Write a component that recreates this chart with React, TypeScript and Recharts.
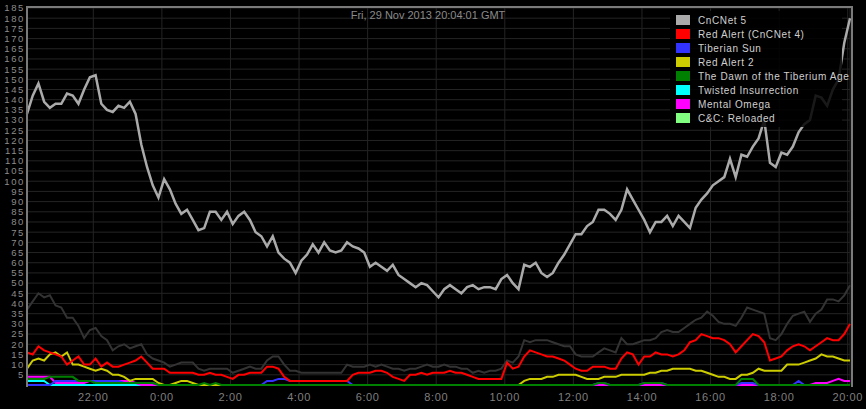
import { LineChart, Line, XAxis, YAxis, CartesianGrid } from "recharts";

// 10-minute samples, starting Thu 20:04 GMT and ending Fri 20:04 GMT
const CNCNET5 = [
  133, 142, 148, 139, 136, 138, 138, 143, 142, 138,
  145, 151, 152, 138, 135, 134, 137, 136, 139, 133,
  118, 107, 98, 92, 101, 96, 89, 84, 86, 81,
  76, 77, 85, 85, 81, 85, 79, 83, 85, 81,
  75, 73, 68, 73, 65, 62, 60, 55, 61, 64,
  69, 65, 70, 66, 65, 66, 70, 68, 67, 65,
  58, 60, 58, 56, 59, 54, 52, 50, 48, 50,
  49, 46, 43, 47, 49, 47, 45, 48, 49, 47,
  48, 48, 47, 52, 54, 50, 47, 59, 58, 60,
  55, 53, 55, 60, 64, 69, 74, 74, 78, 80,
  86, 86, 84, 81, 86, 96, 91, 86, 81, 75,
  80, 80, 83, 78, 83, 80, 77, 87, 91, 94,
  98, 100, 102, 111, 102, 113, 112, 117, 121, 130,
  109, 107, 114, 113, 117, 124, 128, 130, 142, 141,
  137, 145, 150, 168, 180,
];

const TOTAL_OTHER = [
  37, 41, 45, 43, 44, 39, 38, 33, 33, 29,
  23, 27, 28, 24, 22, 17, 19, 20, 18, 19,
  20, 15, 13, 12, 11, 9, 10, 11, 11, 11,
  8, 7, 8, 8, 8, 8, 6, 7, 8, 9,
  8, 8, 12, 14, 14, 10, 7, 7, 6, 6,
  6, 6, 6, 6, 6, 6, 10, 9, 9, 9,
  10, 9, 10, 9, 8, 8, 7, 8, 8, 9,
  10, 9, 9, 10, 9, 9, 8, 8, 6, 7,
  6, 7, 7, 8, 12, 11, 14, 22, 21, 22,
  22, 22, 21, 20, 19, 19, 15, 14, 14, 14,
  16, 18, 17, 16, 23, 20, 20, 21, 22, 22,
  23, 26, 27, 26, 26, 28, 30, 32, 33, 36,
  34, 31, 30, 30, 29, 33, 38, 37, 36, 35,
  23, 22, 25, 30, 34, 35, 36, 31, 35, 37,
  42, 42, 41, 44, 49,
];

const RED_ALERT = [
  16, 15, 19, 17, 16, 15, 14, 10, 12, 14,
  10, 10, 13, 9, 11, 9, 9, 10, 11, 12,
  14, 11, 8, 8, 8, 6, 6, 6, 6, 6,
  5, 5, 6, 5, 5, 4, 3, 5, 5, 6,
  6, 6, 9, 9, 8, 4, 2, 2, 2, 2,
  2, 2, 2, 2, 2, 2, 2, 5, 6, 6,
  6, 7, 7, 6, 4, 3, 2, 5, 5, 6,
  5, 6, 6, 6, 7, 6, 6, 5, 4, 3,
  3, 3, 3, 3, 11, 8, 9, 14, 17, 16,
  15, 14, 14, 13, 12, 10, 8, 7, 7, 9,
  9, 9, 8, 8, 13, 16, 15, 10, 14, 14,
  16, 15, 15, 14, 15, 17, 21, 22, 25, 24,
  23, 23, 22, 20, 16, 19, 22, 25, 24, 21,
  12, 13, 14, 17, 19, 20, 19, 17, 19, 21,
  23, 22, 22, 25, 30,
];

const TIBERIAN_SUN = [
  0, 0, 0, 0, 0, 2, 2, 2, 2, 2,
  2, 2, 2, 2, 2, 2, 2, 1, 1, 1,
  1, 1, 1, 0, 0, 0, 0, 0, 0, 0,
  0, 0, 0, 0, 0, 0, 0, 0, 0, 0,
  0, 0, 2, 2, 3, 3, 2, 2, 2, 2,
  2, 2, 2, 2, 2, 2, 2, 0, 0, 0,
  0, 0, 0, 0, 0, 0, 0, 0, 0, 0,
  0, 0, 0, 0, 0, 0, 0, 0, 0, 0,
  0, 0, 0, 0, 0, 0, 0, 0, 0, 0,
  0, 0, 0, 0, 0, 0, 0, 0, 0, 0,
  1, 1, 0, 0, 0, 0, 0, 0, 1, 1,
  1, 1, 0, 0, 0, 0, 0, 0, 0, 0,
  0, 0, 0, 0, 0, 1, 1, 1, 0, 0,
  0, 0, 0, 0, 0, 2, 0, 0, 0, 0,
  0, 0, 0, 0, 0,
];

const RED_ALERT_2 = [
  8, 12, 13, 12, 15, 16, 14, 16, 10, 10,
  9, 8, 7, 8, 7, 5, 5, 4, 2, 3,
  3, 3, 3, 1, 0, 0, 1, 2, 2, 1,
  0, 0, 0, 0, 0, 0, 0, 0, 0, 0,
  0, 0, 0, 0, 0, 0, 0, 0, 0, 0,
  0, 0, 0, 0, 0, 0, 0, 0, 0, 0,
  0, 0, 0, 0, 0, 0, 0, 0, 0, 0,
  0, 0, 0, 0, 0, 0, 0, 0, 0, 0,
  0, 0, 0, 0, 0, 0, 0, 2, 3, 3,
  3, 4, 4, 5, 5, 5, 5, 4, 3, 3,
  3, 4, 4, 4, 5, 5, 5, 5, 5, 6,
  6, 7, 7, 8, 8, 8, 8, 7, 7, 6,
  5, 4, 4, 3, 3, 5, 5, 6, 8, 7,
  7, 7, 7, 10, 10, 10, 11, 12, 13, 15,
  14, 14, 13, 12, 12,
];

const DAWN_TIBERIUM = [
  3, 3, 3, 3, 4, 4, 4, 4, 4, 2,
  2, 2, 1, 1, 1, 1, 1, 1, 1, 1,
  1, 1, 1, 0, 0, 0, 0, 0, 0, 0,
  0, 1, 0, 1, 0, 0, 0, 0, 0, 0,
  0, 0, 0, 0, 0, 0, 0, 0, 0, 0,
  0, 0, 0, 0, 0, 0, 0, 0, 0, 0,
  0, 0, 0, 0, 0, 0, 0, 0, 0, 0,
  0, 0, 0, 0, 0, 0, 0, 0, 0, 0,
  0, 0, 0, 0, 0, 0, 0, 0, 0, 0,
  0, 0, 0, 0, 0, 0, 0, 0, 0, 0,
  1, 1, 0, 0, 0, 0, 0, 0, 1, 1,
  1, 1, 0, 0, 0, 0, 0, 0, 0, 0,
  0, 0, 0, 0, 0, 3, 3, 3, 0, 0,
  0, 0, 0, 0, 0, 0, 0, 0, 0, 0,
  0, 0, 0, 0, 0,
];

const TWISTED_INSURRECTION = [
  2, 2, 2, 2, 0, 0, 0, 0, 0, 0,
  0, 0, 0, 0, 0, 0, 0, 0, 0, 0,
  0, 0, 0, 0, 0, 0, 0, 0, 0, 0,
  0, 0, 0, 0, 0, 0, 0, 0, 0, 0,
  0, 0, 0, 0, 0, 0, 0, 0, 0, 0,
  0, 0, 0, 0, 0, 0, 0, 0, 0, 0,
  0, 0, 0, 0, 0, 0, 0, 0, 0, 0,
  0, 0, 0, 0, 0, 0, 0, 0, 0, 0,
  0, 0, 0, 0, 0, 0, 0, 0, 0, 0,
  0, 0, 0, 0, 0, 0, 0, 0, 0, 0,
  0, 0, 0, 0, 0, 0, 0, 0, 0, 0,
  0, 0, 0, 0, 0, 0, 0, 0, 0, 0,
  0, 0, 0, 0, 0, 0, 0, 0, 0, 0,
  0, 0, 0, 0, 0, 0, 0, 0, 0, 0,
  0, 0, 0, 0, 0,
];

const MENTAL_OMEGA = [
  4, 4, 4, 4, 4, 1, 1, 1, 1, 1,
  1, 2, 2, 2, 2, 2, 2, 2, 2, 1,
  0, 0, 0, 0, 0, 0, 0, 0, 0, 0,
  0, 0, 0, 0, 0, 0, 0, 0, 0, 0,
  0, 0, 0, 0, 0, 0, 0, 0, 0, 0,
  0, 0, 0, 0, 0, 0, 0, 0, 0, 0,
  0, 0, 0, 0, 0, 0, 0, 0, 0, 0,
  0, 0, 0, 0, 0, 0, 0, 0, 0, 0,
  0, 0, 0, 0, 0, 0, 0, 0, 0, 0,
  0, 0, 0, 0, 0, 0, 0, 0, 0, 0,
  0, 0, 0, 0, 0, 0, 0, 0, 0, 0,
  0, 0, 0, 0, 0, 0, 0, 0, 0, 0,
  0, 0, 0, 0, 0, 0, 0, 0, 0, 0,
  0, 0, 0, 0, 0, 0, 0, 0, 1, 1,
  1, 2, 3, 2, 2,
];

// minutes after 20:04 where each hour label sits
const X_TICKS = [116, 236, 356, 476, 596, 716, 836, 956, 1076, 1196, 1316, 1436];
const X_LABELS = ["22:00", "0:00", "2:00", "4:00", "6:00", "8:00", "10:00", "12:00", "14:00", "16:00", "18:00", "20:00"];
const Y_TICKS = [
  0, 5, 10, 15, 20, 25, 30, 35, 40, 45, 50, 55, 60, 65, 70, 75, 80, 85, 90, 95,
  100, 105, 110, 115, 120, 125, 130, 135, 140, 145, 150, 155, 160, 165, 170, 175, 180, 185,
];

const TITULO = "Fri, 29 Nov 2013 20:04:01 GMT";

const SERIES = [
  { key: "cnc5", name: "CnCNet 5", color: "#aaaaaa" },
  { key: "ra", name: "Red Alert (CnCNet 4)", color: "#ff0000" },
  { key: "ts", name: "Tiberian Sun", color: "#3333ff" },
  { key: "ra2", name: "Red Alert 2", color: "#cccc00" },
  { key: "dta", name: "The Dawn of the Tiberium Age", color: "#008000" },
  { key: "ti", name: "Twisted Insurrection", color: "#00ffff" },
  { key: "mo", name: "Mental Omega", color: "#ff00ff" },
  { key: "ccr", name: "C&C: Reloaded", color: "#80ff80" },
];

const dados = CNCNET5.map((v, i) => ({
  t: i * 10,
  cnc5: v,
  outros: TOTAL_OTHER[i],
  ra: RED_ALERT[i],
  ts: TIBERIAN_SUN[i],
  ra2: RED_ALERT_2[i],
  dta: DAWN_TIBERIUM[i],
  ti: TWISTED_INSURRECTION[i],
  mo: MENTAL_OMEGA[i],
}));

const cor = (k: string) => SERIES.find((s) => s.key === k)!.color;

// draw order: green last so zero stretches sit under it
const ORDEM = ["ti", "mo", "ts", "ra2", "ra", "dta"];

const fonte = "'Liberation Sans', Arial, sans-serif";

export default function App() {
  return (
    <div style={{ position: "absolute", left: 0, top: 0, width: 866, height: 409, background: "#000", overflow: "hidden" }}>
      <LineChart width={866} height={409} data={dados} margin={{ top: 8, right: 16, bottom: 0, left: 0 }}>
        <CartesianGrid stroke="#242424" strokeWidth={1} />
        <XAxis
          type="number"
          dataKey="t"
          domain={[0, 1440]}
          ticks={X_TICKS}
          interval={0}
          tickFormatter={(v) => X_LABELS[X_TICKS.indexOf(v)] ?? ""}
          axisLine={false}
          tickLine={false}
          tickSize={0}
          tickMargin={8}
          height={24}
          tick={{ fill: "#7f7f7f", fontSize: 11, fontFamily: fonte, letterSpacing: 0.6 }}
        />
        <YAxis
          type="number"
          domain={[0, 185]}
          ticks={Y_TICKS}
          interval={0}
          tickFormatter={(v) => (v === 0 ? "" : String(v))}
          axisLine={false}
          tickLine={false}
          tickSize={0}
          tickMargin={2}
          width={27}
          tick={{ fill: "#8c8c8c", fontSize: 9.5, fontFamily: fonte, letterSpacing: 1.6 }}
        />
        <Line type="linear" dataKey="outros" stroke="#333333" strokeWidth={2} dot={false} isAnimationActive={false} />
        <Line type="linear" dataKey="cnc5" stroke={cor("cnc5")} strokeWidth={2.5} dot={false} isAnimationActive={false} />
        {ORDEM.map((k) => (
          <Line key={k} type="linear" dataKey={k} stroke={cor(k)} strokeWidth={2} dot={false} isAnimationActive={false} />
        ))}
      </LineChart>

      {/* moldura do gráfico */}
      <div
        style={{
          position: "absolute",
          left: 26,
          top: 6,
          width: 823,
          height: 379,
          borderLeft: "2px solid #7a7a7a",
          borderTop: "2px solid #7a7a7a",
          borderRight: "2px solid #7a7a7a",
        }}
      />

      <div
        style={{
          position: "absolute",
          left: 0,
          width: 856,
          top: 9,
          textAlign: "center",
          color: "#8a8a8a",
          fontFamily: fonte,
          fontSize: 11,
        }}
      >
        {TITULO}
      </div>

      <div
        style={{
          position: "absolute",
          left: 670,
          top: 11,
          width: 172,
          height: 116,
          background: "rgba(0,0,0,0.85)",
        }}
      />
      <ul style={{ position: "absolute", left: 676, top: 13, margin: 0, padding: 0, listStyle: "none" }}>
        {SERIES.map((s) => (
          <li key={s.key} style={{ display: "flex", alignItems: "center", height: 14, whiteSpace: "nowrap" }}>
            <span style={{ width: 14, height: 10, background: s.color, display: "inline-block" }} />
            <span
              style={{
                marginLeft: 8,
                color: "#cfcfcf",
                fontFamily: fonte,
                fontSize: 10,
                letterSpacing: 0.6,
              }}
            >
              {s.name}
            </span>
          </li>
        ))}
      </ul>
    </div>
  );
}
